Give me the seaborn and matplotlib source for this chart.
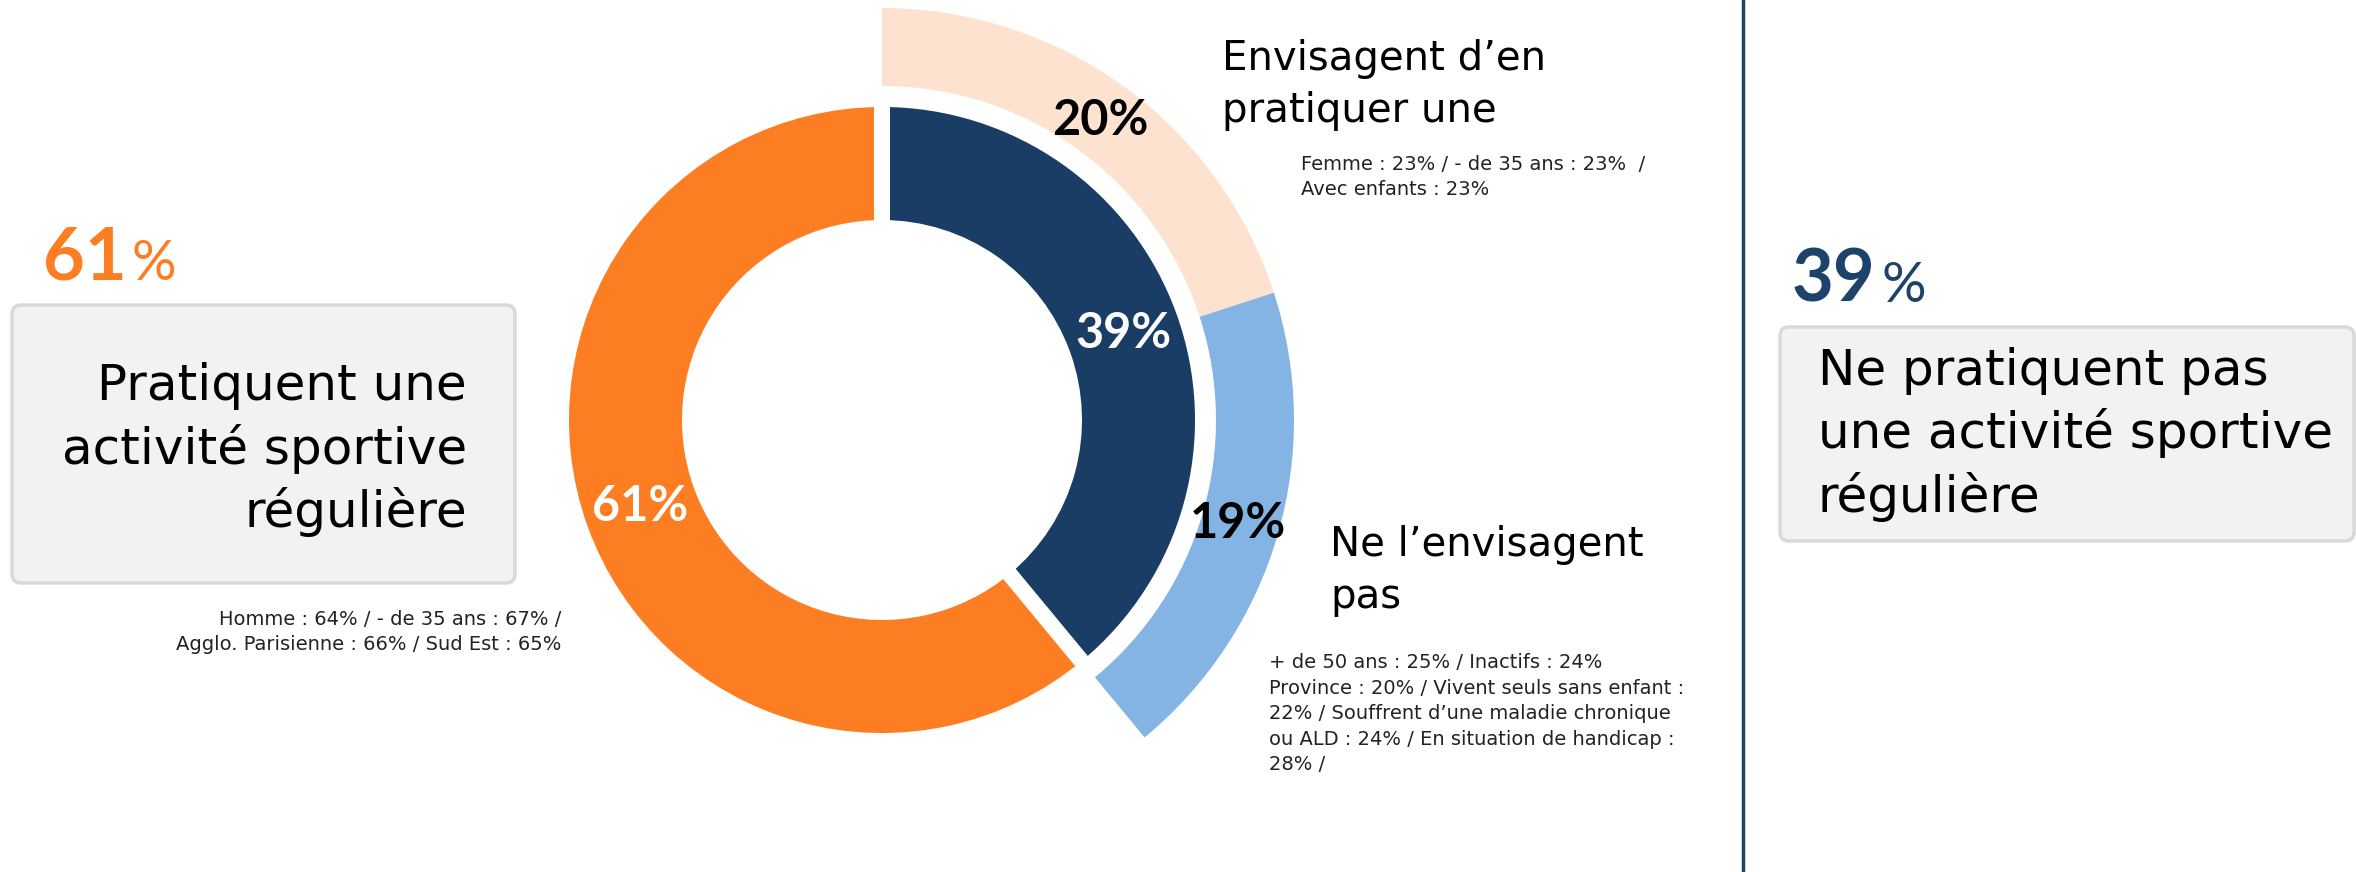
import numpy as np
import pandas as pd
import matplotlib.pyplot as plt
from matplotlib.patches import FancyBboxPatch
import seaborn as sns

W, H = 2356, 872

# anneau intérieur : pratique / ne pratique pas
inner_labels = ["Ne pratiquent pas", "Pratiquent"]
inner_values = [39, 61]
inner_colors = ["#193d64", "#fd7d23"]

# anneau extérieur : détail des 39 %
outer_labels = ["Envisagent d'en pratiquer une", "Ne l'envisagent pas", ""]
outer_values = [20, 19, 61]
outer_colors = ["#fde3cf", "#84b4e4", "none"]

left_pct = "61"
right_pct = "39"
left_title = ["Pratiquent une", "activité sportive", "régulière"]
left_detail = ["Homme : 64% / - de 35 ans : 67% /",
               "Agglo. Parisienne : 66% / Sud Est : 65%"]
right_title = ["Ne pratiquent pas", "une activité sportive", "régulière"]
top_title = ["Envisagent d’en", "pratiquer une"]
top_detail = ["Femme : 23% / - de 35 ans : 23%  /", "Avec enfants : 23%"]
bottom_title = ["Ne l’envisagent", "pas"]
bottom_detail = ["+ de 50 ans : 25% / Inactifs : 24%",
                 "Province : 20% / Vivent seuls sans enfant :",
                 "22% / Souffrent d’une maladie chronique",
                 "ou ALD : 24% / En situation de handicap :",
                 "28% /"]

ORANGE = "#fd7d23"
NAVY = "#1d436b"

sns.set_style("white")
fig = plt.figure(figsize=(W / 100, H / 100), dpi=100)
ax = fig.add_axes([0, 0, 1, 1])

cx, cy = 882, H - 420
pct_font = dict(family="Lato", weight="bold", size=35)

ax.pie(inner_values, colors=inner_colors, startangle=90, counterclock=False,
       center=(cx, cy), radius=321, autopct="%1.0f%%", pctdistance=0.80,
       wedgeprops=dict(width=129, edgecolor="white", linewidth=11.5),
       textprops=dict(color="white", **pct_font))

ax.pie(outer_values, colors=outer_colors, startangle=90, counterclock=False,
       center=(cx, cy), radius=412,
       autopct=lambda p: f"{p:.0f}%" if p < 50 else "", pctdistance=0.90,
       wedgeprops=dict(width=78, linewidth=0),
       textprops=dict(color="black", **pct_font))

ax.set_aspect("auto")
ax.set_xlim(0, W)
ax.set_ylim(0, H)
ax.axis("off")


def txt(x, y, s, **kw):
    ax.text(x, H - y, s, va="baseline", **kw)


def box(x0, y0, x1, y1):
    ax.add_patch(FancyBboxPatch((x0, H - y1), x1 - x0, y1 - y0,
                                boxstyle="round,pad=0,rounding_size=9",
                                fc="#f2f2f2", ec="#d9d9d9", lw=2.5))


# bloc gauche
txt(43, 279, left_pct, color=ORANGE, family="Lato", weight="bold", size=52)
txt(132, 280, "%", color=ORANGE, family="Lato", weight="normal", size=40)
box(12, 305, 515, 583)
for i, line in enumerate(left_title):
    txt(467, 400 + i * 63.5, line, ha="right", size=36, color="black")
for i, line in enumerate(left_detail):
    txt(561, 625 + i * 25, line, ha="right", size=14, color="#222222")

# annotations de l'anneau extérieur
for i, line in enumerate(top_title):
    txt(1222, 70 + i * 52, line, size=29, color="black")
for i, line in enumerate(top_detail):
    txt(1301, 170 + i * 25, line, size=14, color="#222222")
for i, line in enumerate(bottom_title):
    txt(1330, 556 + i * 52, line, size=29, color="black")
for i, line in enumerate(bottom_detail):
    txt(1269, 668 + i * 25.5, line, size=14, color="#222222")

# séparateur et bloc droit
ax.axvline(1743, color=NAVY, lw=2.5)
txt(1792, 302, right_pct, color=NAVY, family="Lato", weight="bold", size=52)
txt(1881, 302, "%", color=NAVY, family="Lato", weight="normal", size=40)
box(1780, 327, 2354, 541)
for i, line in enumerate(right_title):
    txt(1818, 385 + i * 63.5, line, size=36, color="black")

fig.savefig("out.png", dpi=100)
